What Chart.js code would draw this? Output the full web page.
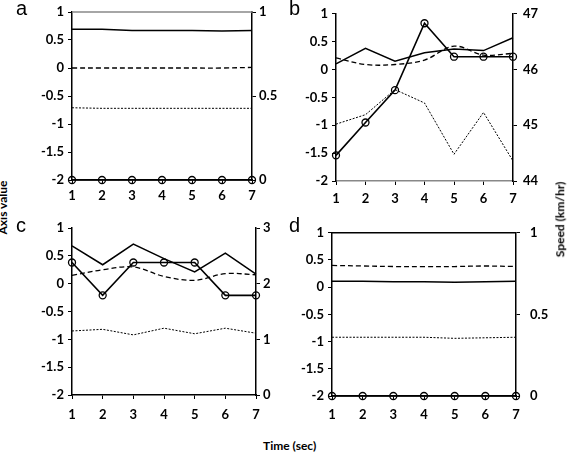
<!DOCTYPE html>
<html>
<head>
<meta charset="utf-8">
<script src="https://cdn.jsdelivr.net/npm/chart.js@4"></script>
<style>
  body { margin: 0; background: #fff; }
  #wrap { position: relative; width: 567px; height: 452px; overflow: hidden; font-family: Lato, sans-serif; }
  .panel { position: absolute; }
  .letter { position: absolute; font-family: "Liberation Sans", Arial, sans-serif; font-size: 20px; color: #000; }
  .lab { position: absolute; font-size: 12px; font-weight: bold; color: #000; white-space: nowrap; }
</style>
</head>
<body>
<div id="wrap">
  <div class="panel" style="left:20px;top:0;width:260px;height:212px"><canvas id="chartA"></canvas></div>
  <div class="panel" style="left:290px;top:0;width:260px;height:212px"><canvas id="chartB"></canvas></div>
  <div class="panel" style="left:20px;top:215px;width:265px;height:215px"><canvas id="chartC"></canvas></div>
  <div class="panel" style="left:290px;top:215px;width:265px;height:215px"><canvas id="chartD"></canvas></div>
  <div class="letter" style="left:16px;top:-3px">a</div>
  <div class="letter" style="left:289px;top:-3px">b</div>
  <div class="letter" style="left:16px;top:214px">c</div>
  <div class="letter" style="left:289px;top:214px">d</div>
  <div class="lab" style="left:-24px;top:200px;transform:rotate(-90deg)">Axis value</div>
  <div class="lab" style="left:522px;top:212px;transform:rotate(-90deg)">Speed (km/hr)</div>
  <div class="lab" style="left:263px;top:438px">Time (sec)</div>
</div>
<script>
const times = ['1', '2', '3', '4', '5', '6', '7'];

// panel a
const aSolid  = [0.69, 0.69, 0.67, 0.67, 0.67, 0.66, 0.67];
const aDashed = [0.0, 0.0, 0.0, 0.0, 0.0, 0.0, 0.01];
const aDotted = [-0.71, -0.72, -0.72, -0.72, -0.72, -0.72, -0.72];
const aSpeed  = [0, 0, 0, 0, 0, 0, 0];
const aSpeedTicks = [0, 0.5, 1];

// panel b
const bSolid  = [0.1, 0.38, 0.15, 0.3, 0.37, 0.34, 0.57];
const bDashed = [0.21, 0.09, 0.09, 0.17, 0.42, 0.26, 0.29];
const bDotted = [-0.98, -0.81, -0.36, -0.6, -1.52, -0.77, -1.64];
const bSpeed  = [44.46, 45.05, 45.63, 46.83, 46.23, 46.23, 46.23];
const bSpeedTicks = [44, 45, 46, 47];

// panel c
const cSolid  = [0.68, 0.34, 0.71, 0.45, 0.21, 0.55, 0.17];
const cDashed = [0.15, 0.25, 0.3, 0.13, 0.06, 0.18, 0.16];
const cDotted = [-0.85, -0.82, -0.92, -0.8, -0.9, -0.8, -0.89];
const cSpeed  = [2.38, 1.79, 2.38, 2.38, 2.38, 1.79, 1.79];
const cSpeedTicks = [0, 1, 2, 3];

// panel d
const dSolid  = [0.11, 0.11, 0.1, 0.1, 0.09, 0.1, 0.11];
const dDashed = [0.4, 0.39, 0.38, 0.38, 0.38, 0.39, 0.38];
const dDotted = [-0.92, -0.92, -0.92, -0.92, -0.94, -0.93, -0.92];
const dSpeed  = [0, 0, 0, 0, 0, 0, 0];
const dSpeedTicks = [0, 0.5, 1];

Chart.defaults.font.family = 'Lato, sans-serif';
Chart.defaults.font.size = 13;
Chart.defaults.font.weight = 'bold';
Chart.defaults.color = '#000';
Chart.defaults.animation = false;

// plot border line on top of the chart area
const topLine = {
    id: 'topLine',
    afterDraw(chart, args, opts) {
        if (!opts.color) return;
        const a = chart.chartArea, ctx = chart.ctx;
        ctx.save();
        ctx.strokeStyle = opts.color;
        ctx.lineWidth = 1.5;
        ctx.beginPath();
        ctx.moveTo(a.left, a.top);
        ctx.lineTo(a.right, a.top);
        ctx.stroke();
        ctx.restore();
    }
};

function makePanel(id, solid, dashed, dotted, speed, speedTicks, sizes) {
    const speedMin = speedTicks[0];
    const speedMax = speedTicks[speedTicks.length - 1];
    new Chart(document.getElementById(id), {
        type: 'line',
        data: {
            labels: times,
            datasets: [
                { data: solid, borderColor: '#000', borderWidth: 1.5, pointRadius: 0, yAxisID: 'y' },
                { data: dashed, borderColor: '#000', borderWidth: 1.3, borderDash: [5, 3], pointRadius: 0, tension: 0.35, yAxisID: 'y' },
                { data: dotted, borderColor: '#000', borderWidth: 1, borderDash: [2, 1.5], pointRadius: 0, yAxisID: 'y' },
                { data: speed, borderColor: '#000', borderWidth: 1.6, pointRadius: 3.5, pointBorderWidth: 1.3,
                  pointBackgroundColor: 'rgba(0,0,0,0)', pointBorderColor: '#000', yAxisID: 'y1', clip: false }
            ]
        },
        options: {
            responsive: true,
            maintainAspectRatio: false,
            layout: { padding: { top: sizes.top, left: 0, right: 0, bottom: 0 } },
            plugins: { legend: { display: false }, tooltip: { enabled: false }, topLine: { color: sizes.topColor } },
            scales: {
                x: {
                    offset: false,
                    grid: { drawOnChartArea: false, tickLength: 4, color: '#000' },
                    border: { color: sizes.bottomColor || '#000', width: 1.5 },
                    ticks: { padding: sizes.xPad, maxRotation: 0 },
                    afterFit: s => { s.height = sizes.xh; }
                },
                y: {
                    min: -2, max: 1,
                    grid: { drawOnChartArea: false, tickLength: 4, color: '#000' },
                    border: { color: '#000', width: 1.5 },
                    ticks: { stepSize: 0.5, padding: 4, callback: v => String(v) },
                    afterFit: s => { s.width = sizes.yw; }
                },
                y1: {
                    position: 'right',
                    min: speedMin, max: speedMax,
                    grid: { drawOnChartArea: false, tickLength: 4, color: '#000' },
                    border: { color: '#000', width: 1.5 },
                    ticks: { stepSize: speedTicks[1] - speedTicks[0], padding: sizes.rPad, callback: v => String(v) },
                    afterFit: s => { s.width = sizes.y1w; }
                }
            }
        },
        plugins: [topLine]
    });
}

makePanel('chartA', aSolid, aDashed, aDotted, aSpeed, aSpeedTicks, { top: 12, xh: 32, yw: 52, y1w: 28, xPad: 4, rPad: 3, topColor: '#888' });
makePanel('chartB', bSolid, bDashed, bDotted, bSpeed, bSpeedTicks, { top: 12, xh: 31, yw: 46, y1w: 37, xPad: 6, rPad: 6, bottomColor: '#888' });
makePanel('chartC', cSolid, cDashed, cDotted, cSpeed, cSpeedTicks, { top: 13, xh: 35, yw: 52, y1w: 29, xPad: 8, rPad: 3 });
makePanel('chartD', dSolid, dDashed, dDotted, dSpeed, dSpeedTicks, { top: 13, xh: 34, yw: 42, y1w: 39, xPad: 7, rPad: 10, topColor: '#000' });
</script>
</body>
</html>
